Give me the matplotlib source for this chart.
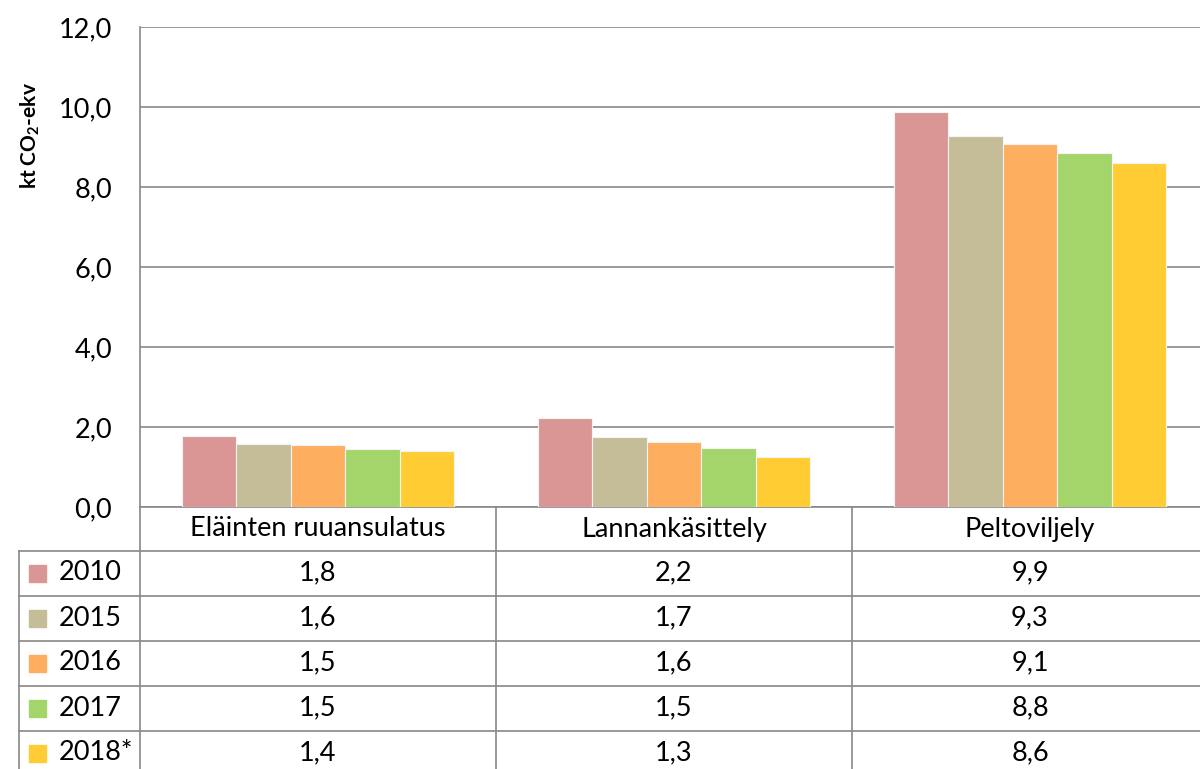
import matplotlib.pyplot as plt
import numpy as np
from matplotlib.transforms import blended_transform_factory
from matplotlib.patches import Rectangle

categories = ["Eläinten ruuansulatus", "Lannankäsittely", "Peltoviljely"]
years = ["2010", "2015", "2016", "2017", "2018*"]
v2010 = [1.78, 2.23, 9.88]
v2015 = [1.58, 1.74, 9.28]
v2016 = [1.54, 1.62, 9.08]
v2017 = [1.46, 1.47, 8.84]
v2018 = [1.40, 1.26, 8.61]
series = [v2010, v2015, v2016, v2017, v2018]
colors = ["#D99694", "#C4BD97", "#FDAE5E", "#A3D56B", "#FFCD33"]

plt.rcParams['font.family'] = ['Lato', 'DejaVu Sans']
plt.rcParams['mathtext.fontset'] = 'custom'
plt.rcParams['mathtext.rm'] = 'Lato'
plt.rcParams['mathtext.bf'] = 'Lato:bold'

W, H = 1200, 769
fig = plt.figure(figsize=(W / 100, H / 100), dpi=100)


def fx(px):
    return px / W


def fy(py):
    return (H - py) / H


fs = 19.5
grid_c = "#888888"
ax = fig.add_axes([fx(140), fy(507), fx(1208) - fx(140), fy(27) - fy(507)])

x = np.arange(len(categories))
bw = 0.153
for i, (vals, c) in enumerate(zip(series, colors)):
    ax.bar(x + (i - 2) * bw, vals, width=bw, color=c, edgecolor="#f4f4f4",
           linewidth=0.8, zorder=3)

ax.set_xlim(-0.5, 2.5)
ax.set_ylim(0, 12)
ax.set_yticks(np.arange(0, 13, 2))
ax.set_yticklabels([f"{t:.1f}".replace(".", ",") for t in np.arange(0, 13, 2)])
ax.tick_params(axis="y", length=0, pad=20, labelsize=fs)
ax.set_xticks([])
ax.grid(axis="y", color=grid_c, linewidth=1.2, zorder=0)
for s in ["top", "right"]:
    ax.spines[s].set_visible(False)
ax.spines["left"].set_color(grid_c)
ax.spines["left"].set_linewidth(1.2)
ax.spines["bottom"].set_color(grid_c)
ax.spines["bottom"].set_linewidth(1.2)

fig.text(fx(30), fy(136), r"kt CO$_\mathbf{2}$-ekv", rotation=90, ha="center",
         va="center", fontsize=15, fontweight="bold")

# data table below the plot
tr = blended_transform_factory(ax.transData, fig.transFigure)
row_lines = [551, 596, 641, 686, 731]
lw = 1.2
for py in row_lines:
    fig.add_artist(plt.Line2D([fx(19), 1.01], [fy(py), fy(py)], color=grid_c, lw=lw))
fig.add_artist(plt.Line2D([fx(19), fx(19)], [fy(551), 0], color=grid_c, lw=lw))
for b in [-0.5, 0.5, 1.5]:
    ax.plot([b, b], [fy(507), 0], transform=tr, color=grid_c, lw=lw, clip_on=False)

for j, cat in enumerate(categories):
    ax.text(j, fy(529), cat, transform=tr, ha="center", va="center", fontsize=fs)

row_centers = [573, 618, 663, 708, 753]
for i, (yr, vals, c) in enumerate(zip(years, series, colors)):
    py = row_centers[i]
    fig.add_artist(Rectangle((fx(29), fy(py + 8.5)), fx(17), fy(0) - fy(17),
                             color=c, transform=fig.transFigure))
    fig.text(fx(59), fy(py), yr, ha="left", va="center", fontsize=fs)
    for j, v in enumerate(vals):
        ax.text(j, fy(py), f"{v:.1f}".replace(".", ","), transform=tr,
                ha="center", va="center", fontsize=fs)

fig.savefig("out.png", dpi=100)
